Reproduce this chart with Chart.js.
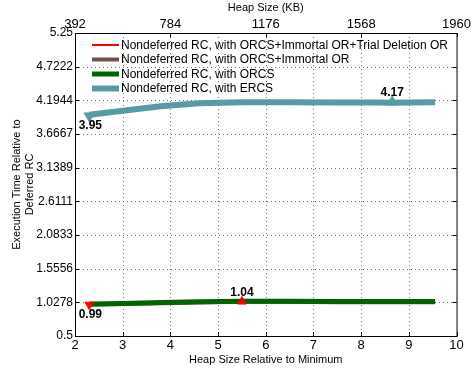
<!DOCTYPE html>
<html>
<head>
<meta charset="utf-8">
<script src="https://cdn.jsdelivr.net/npm/chart.js@4.4.1/dist/chart.umd.min.js"></script>
<style>
  html, body { margin: 0; padding: 0; background: #fff; }
</style>
</head>
<body>
<canvas id="chart" width="472" height="372"></canvas>
<script>
// data
const heapRel = [2.3, 3.0, 3.8, 4.6, 5.5, 6.5, 7.5, 8.3, 8.65, 9.0, 9.55]
const trialDeletionOR = [0.99, 1.0, 1.015, 1.025, 1.04, 1.035, 1.03, 1.03, 1.03, 1.03, 1.03]
const immortalOR = [0.99, 1.0, 1.015, 1.025, 1.035, 1.035, 1.03, 1.03, 1.03, 1.03, 1.03]
const orcs = [1.0, 1.01, 1.025, 1.035, 1.045, 1.045, 1.04, 1.04, 1.04, 1.04, 1.04]
const ercs = [3.97, 4.03, 4.1, 4.15, 4.165, 4.165, 4.16, 4.16, 4.155, 4.16, 4.165]

const ercsMarkX = [2.3, 8.65]
const ercsMarkY = [3.95, 4.17]
const lowMarkX = [2.3, 5.5]
const lowMarkY = [0.99, 1.04]

const yTicks = [0.5, 1.0278, 1.5556, 2.0833, 2.6111, 3.1389, 3.6667, 4.1944, 4.7222, 5.25]
const xTicks = [2, 3, 4, 5, 6, 7, 8, 9, 10]
const topTicks = [2, 4, 6, 8, 10]
const topTickLabels = ['392', '784', '1176', '1568', '1960']

const legendNames = [
  'Nondeferred RC, with ORCS+Immortal OR+Trial Deletion OR',
  'Nondeferred RC, with ORCS+Immortal OR',
  'Nondeferred RC, with ORCS',
  'Nondeferred RC, with ERCS'
]
const colors = ['#ff0000', '#6e5448', '#006400', '#5a9aa2']
const widths = [2, 4, 5, 6]

const FONT = 'Liberation Sans, Arial, sans-serif'

const pts = (xs, ys) => xs.map((x, i) => ({ x, y: ys[i] }))

const lineSet = (i, values, order) => ({
  label: legendNames[i],
  data: pts(heapRel, values),
  borderColor: colors[i],
  backgroundColor: colors[i],
  borderWidth: widths[i],
  pointRadius: 0,
  tension: 0,
  order
})

const markSet = (xs, ys, color, r) => ({
  label: 'marks',
  data: pts(xs, ys),
  showLine: false,
  pointStyle: 'triangle',
  rotation: ys.map((v, i) => (i === 0 ? 180 : 0)),
  pointRadius: r,
  borderWidth: 1,
  borderColor: color,
  backgroundColor: color,
  order: 0
})

// dotted matlab grid, drawn under the lines
const dottedGrid = {
  id: 'dottedGrid',
  beforeDatasetsDraw(chart) {
    const { ctx, chartArea: a, scales } = chart
    ctx.save()
    ctx.strokeStyle = '#707070'
    ctx.lineWidth = 1
    ctx.setLineDash([1, 3])
    ctx.beginPath()
    xTicks.slice(1, -1).forEach(v => {
      const px = Math.round(scales.x.getPixelForValue(v)) + 0.5
      ctx.moveTo(px, a.top)
      ctx.lineTo(px, a.bottom)
    })
    yTicks.slice(1, -1).forEach(v => {
      const py = Math.round(scales.y.getPixelForValue(v)) + 0.5
      ctx.moveTo(a.left, py)
      ctx.lineTo(a.right, py)
    })
    ctx.stroke()
    ctx.restore()
  }
}

// legend drawn inside the plot, matlab style
const insideLegend = {
  id: 'insideLegend',
  afterDraw(chart) {
    const { ctx, chartArea } = chart
    ctx.save()
    ctx.font = '12px ' + FONT
    ctx.textBaseline = 'middle'
    legendNames.forEach((name, i) => {
      const y = chartArea.top + 12 + i * 14.5
      const x0 = chartArea.left + 17
      ctx.strokeStyle = colors[i]
      ctx.lineWidth = widths[i]
      ctx.beginPath()
      ctx.moveTo(x0, y)
      ctx.lineTo(x0 + 27, y)
      ctx.stroke()
      ctx.fillStyle = '#000'
      ctx.fillText(name, x0 + 29, y + 0.5)
    })
    ctx.restore()
  }
}

// frame, inward ticks and value labels
const frameAndLabels = {
  id: 'frameAndLabels',
  afterDraw(chart) {
    const { ctx, chartArea: a, scales } = chart
    ctx.save()
    ctx.strokeStyle = '#000'
    ctx.lineWidth = 1
    ctx.strokeRect(a.left + 0.5, a.top + 0.5, a.right - a.left, a.bottom - a.top)
    ctx.beginPath()
    xTicks.forEach(v => {
      const px = Math.round(scales.x.getPixelForValue(v)) + 0.5
      ctx.moveTo(px, a.bottom)
      ctx.lineTo(px, a.bottom - 4)
    })
    topTicks.forEach(v => {
      const px = Math.round(scales.x.getPixelForValue(v)) + 0.5
      ctx.moveTo(px, a.top)
      ctx.lineTo(px, a.top + 4)
    })
    yTicks.forEach(v => {
      const py = Math.round(scales.y.getPixelForValue(v)) + 0.5
      ctx.moveTo(a.left, py)
      ctx.lineTo(a.left + 4, py)
      ctx.moveTo(a.right, py)
      ctx.lineTo(a.right - 4, py)
    })
    ctx.stroke()

    ctx.font = 'bold 12px ' + FONT
    ctx.fillStyle = '#000'
    ctx.textAlign = 'center'
    const label = (x, y, below) => {
      const px = scales.x.getPixelForValue(x)
      const py = scales.y.getPixelForValue(y)
      ctx.textBaseline = below ? 'top' : 'bottom'
      ctx.fillText(y.toFixed(2), px + (below ? 1 : 0), below ? py + 4 : py - 3)
    }
    ercsMarkX.forEach((x, i) => label(x, ercsMarkY[i], i === 0))
    lowMarkX.forEach((x, i) => label(x, lowMarkY[i], i === 0))
    ctx.restore()
  }
}

new Chart(document.getElementById('chart'), {
  type: 'line',
  data: {
    datasets: [
      lineSet(0, trialDeletionOR, 4),
      lineSet(1, immortalOR, 3),
      lineSet(2, orcs, 2),
      lineSet(3, ercs, 1),
      markSet(ercsMarkX, ercsMarkY, colors[3], 6),
      markSet(lowMarkX, lowMarkY, '#ff0000', 5)
    ]
  },
  options: {
    responsive: false,
    animation: false,
    layout: { padding: { right: 15, left: 10, top: 0, bottom: 5 } },
    plugins: {
      legend: { display: false },
      tooltip: { enabled: false }
    },
    scales: {
      x: {
        type: 'linear',
        position: 'bottom',
        min: 2,
        max: 10,
        afterBuildTicks: s => { s.ticks = xTicks.map(value => ({ value })) },
        afterFit: s => { s.height = 31 },
        grid: { display: false, drawTicks: false },
        border: { display: false },
        ticks: { color: '#000', font: { family: FONT, size: 13 }, padding: 2, maxRotation: 0 },
        title: {
          display: true,
          text: 'Heap Size Relative to Minimum',
          color: '#000',
          font: { family: FONT, size: 11 },
          padding: { top: 0, bottom: 0 }
        }
      },
      x2: {
        type: 'linear',
        position: 'top',
        min: 2,
        max: 10,
        afterBuildTicks: s => { s.ticks = topTicks.map(value => ({ value })) },
        afterFit: s => { s.height = 33 },
        grid: { display: false, drawTicks: false },
        border: { display: false },
        ticks: {
          color: '#000',
          font: { family: FONT, size: 13 },
          padding: 1,
          maxRotation: 0,
          callback: v => topTickLabels[topTicks.indexOf(v)]
        },
        title: {
          display: true,
          text: 'Heap Size (KB)',
          color: '#000',
          font: { family: FONT, size: 11 },
          padding: { top: 1, bottom: 0 }
        }
      },
      y: {
        type: 'linear',
        min: 0.5,
        max: 5.25,
        afterBuildTicks: s => { s.ticks = yTicks.map(value => ({ value })) },
        afterFit: s => { s.width = 65 },
        grid: { display: false, drawTicks: false },
        border: { display: false },
        ticks: {
          color: '#000',
          font: { family: FONT, size: 12 },
          padding: 2,
          callback: v => String(v)
        },
        title: {
          display: true,
          text: ['Execution Time Relative to', 'Deferred RC'],
          color: '#000',
          font: { family: FONT, size: 11 },
          padding: { top: 0, bottom: 4 }
        }
      }
    }
  },
  plugins: [dottedGrid, insideLegend, frameAndLabels]
})
</script>
</body>
</html>
